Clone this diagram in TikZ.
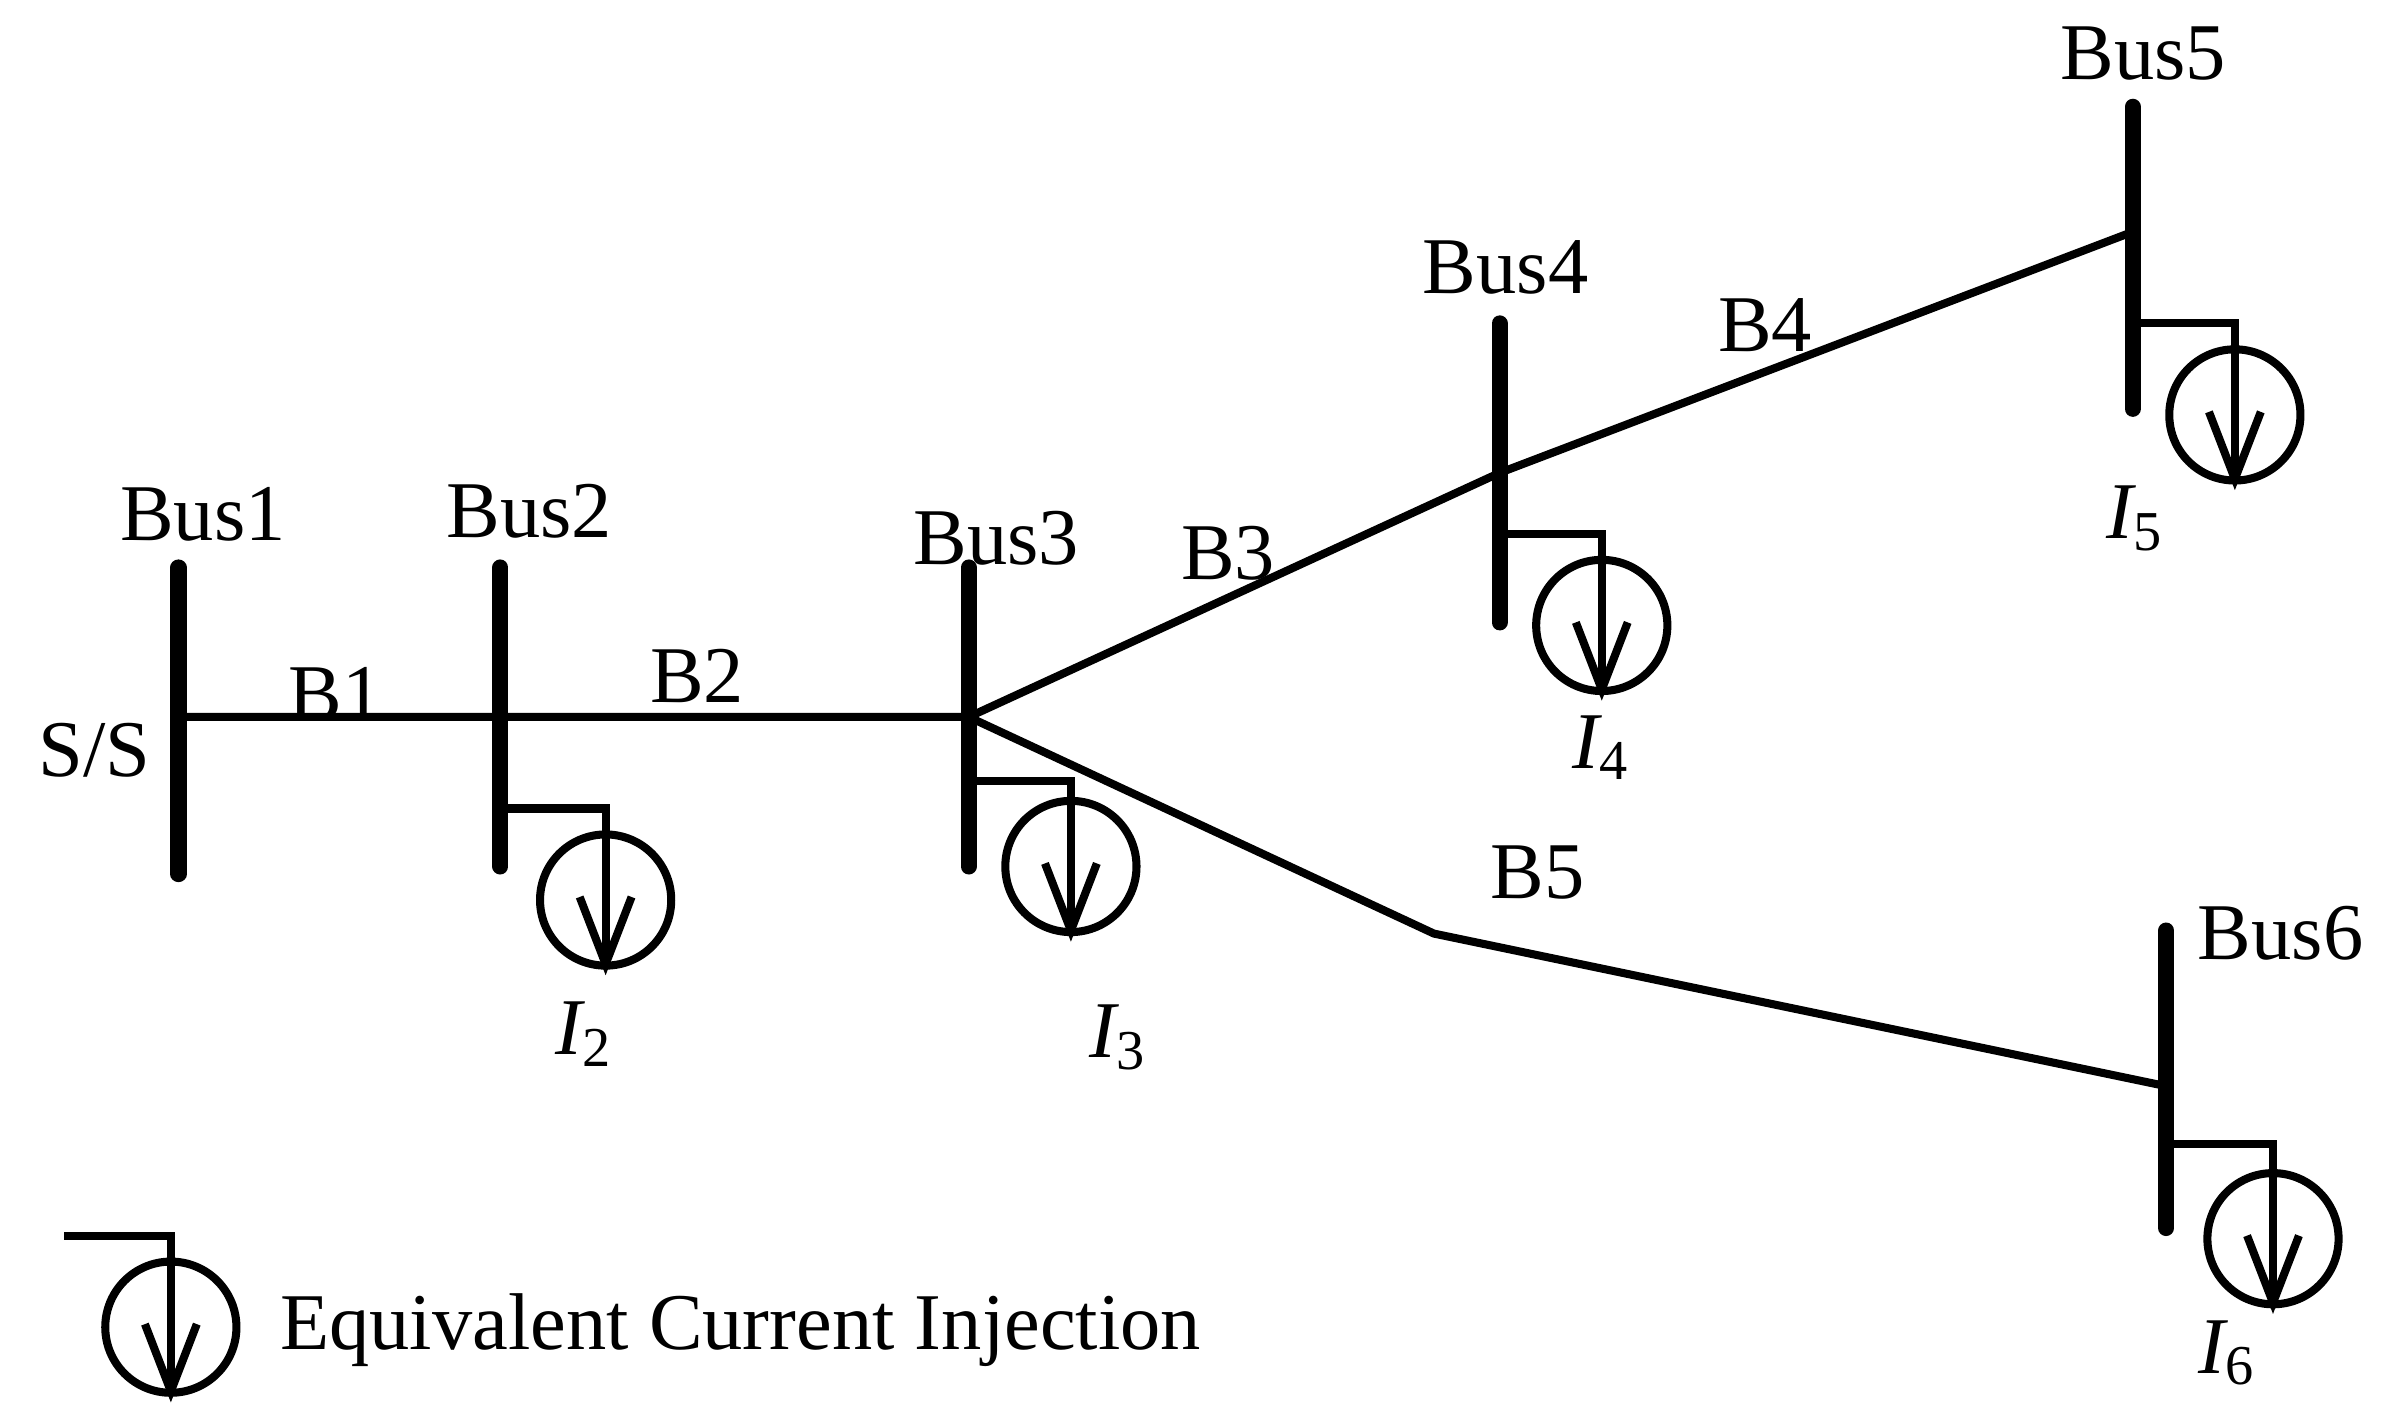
\documentclass[tikz,border=0pt]{standalone}
\usepackage{fontspec}
\setmainfont{Liberation Serif}
\begin{document}
\begin{tikzpicture}[x=0.01cm,y=-0.01cm,
  bus/.style={line width=3pt,line cap=round},
  ln/.style={line width=1.5pt},
  lbl/.style={font=\fontsize{15}{18}\selectfont,inner sep=0pt},
  ci/.style={font=\fontsize{15}{18}\selectfont\itshape,inner sep=0pt}]
\useasboundingbox (0,0) rectangle (1568,934);
\newcommand{\load}[4]{% busx, y, x, circle y
  \draw[ln] (#1,#2) -- (#3,#2) -- (#3,#4+42);
  \draw[ln] (#3,#4) circle (43);
  \draw[ln,line join=miter] (#3-17,#4-2) -- (#3,#4+42) -- (#3+17,#4-2);}
% buses
\coordinate (b1t) at (117,372); \coordinate (b1b) at (117,573);
\coordinate (b2t) at (328,372); \coordinate (b2b) at (328,568);
\coordinate (b3t) at (635,372); \coordinate (b3b) at (635,568);
\coordinate (b4t) at (983,212); \coordinate (b4b) at (983,408);
\coordinate (b5t) at (1398,70); \coordinate (b5b) at (1398,268);
\coordinate (b6t) at (1420,610); \coordinate (b6b) at (1420,805);
\foreach \i in {1,...,6} \draw[bus] (b\i t) -- (b\i b);
\coordinate (n1) at (117,470); \coordinate (n3) at (635,470);
\coordinate (n4) at (983,310); \coordinate (n5) at (1398,152);
\coordinate (k) at (940,612); \coordinate (n6) at (1420,712);
\draw[ln] (n1) -- (n3) -- (n4) -- (n5);
\draw[ln] (n3) -- (k) -- (n6);
% labels
\node[lbl] at (133,337) {Bus1};
\node[lbl] at (347,335) {Bus2};
\node[lbl] at (653,353) {Bus3};
\node[lbl] at (987,175) {Bus4};
\node[lbl] at (1405,35) {Bus5};
\node[lbl] at (1495,612) {Bus6};
\node[lbl] at (62,492) {S/S};
\node[lbl] at (220,455) {B1};
\node[lbl] at (457,443) {B2};
\node[lbl] at (805,363) {B3};
\node[lbl] at (1157,213) {B4};
\node[lbl] at (1008,572) {B5};
% loads
\load{328}{530}{397}{590}
\load{635}{512}{702}{568}
\load{983}{350}{1050}{410}
\load{1398}{212}{1465}{272}
\load{1420}{750}{1490}{812}
\load{42}{810}{112}{870}
\node[ci] at (383,678) {I\textsubscript{\upshape 2}};
\node[ci] at (733,680) {I\textsubscript{\upshape 3}};
\node[ci] at (1050,490) {I\textsubscript{\upshape 4}};
\node[ci] at (1400,340) {I\textsubscript{\upshape 5}};
\node[ci] at (1460,887) {I\textsubscript{\upshape 6}};
\node[lbl,anchor=west] at (183,872) {Equivalent Current Injection};
\end{tikzpicture}
\end{document}
